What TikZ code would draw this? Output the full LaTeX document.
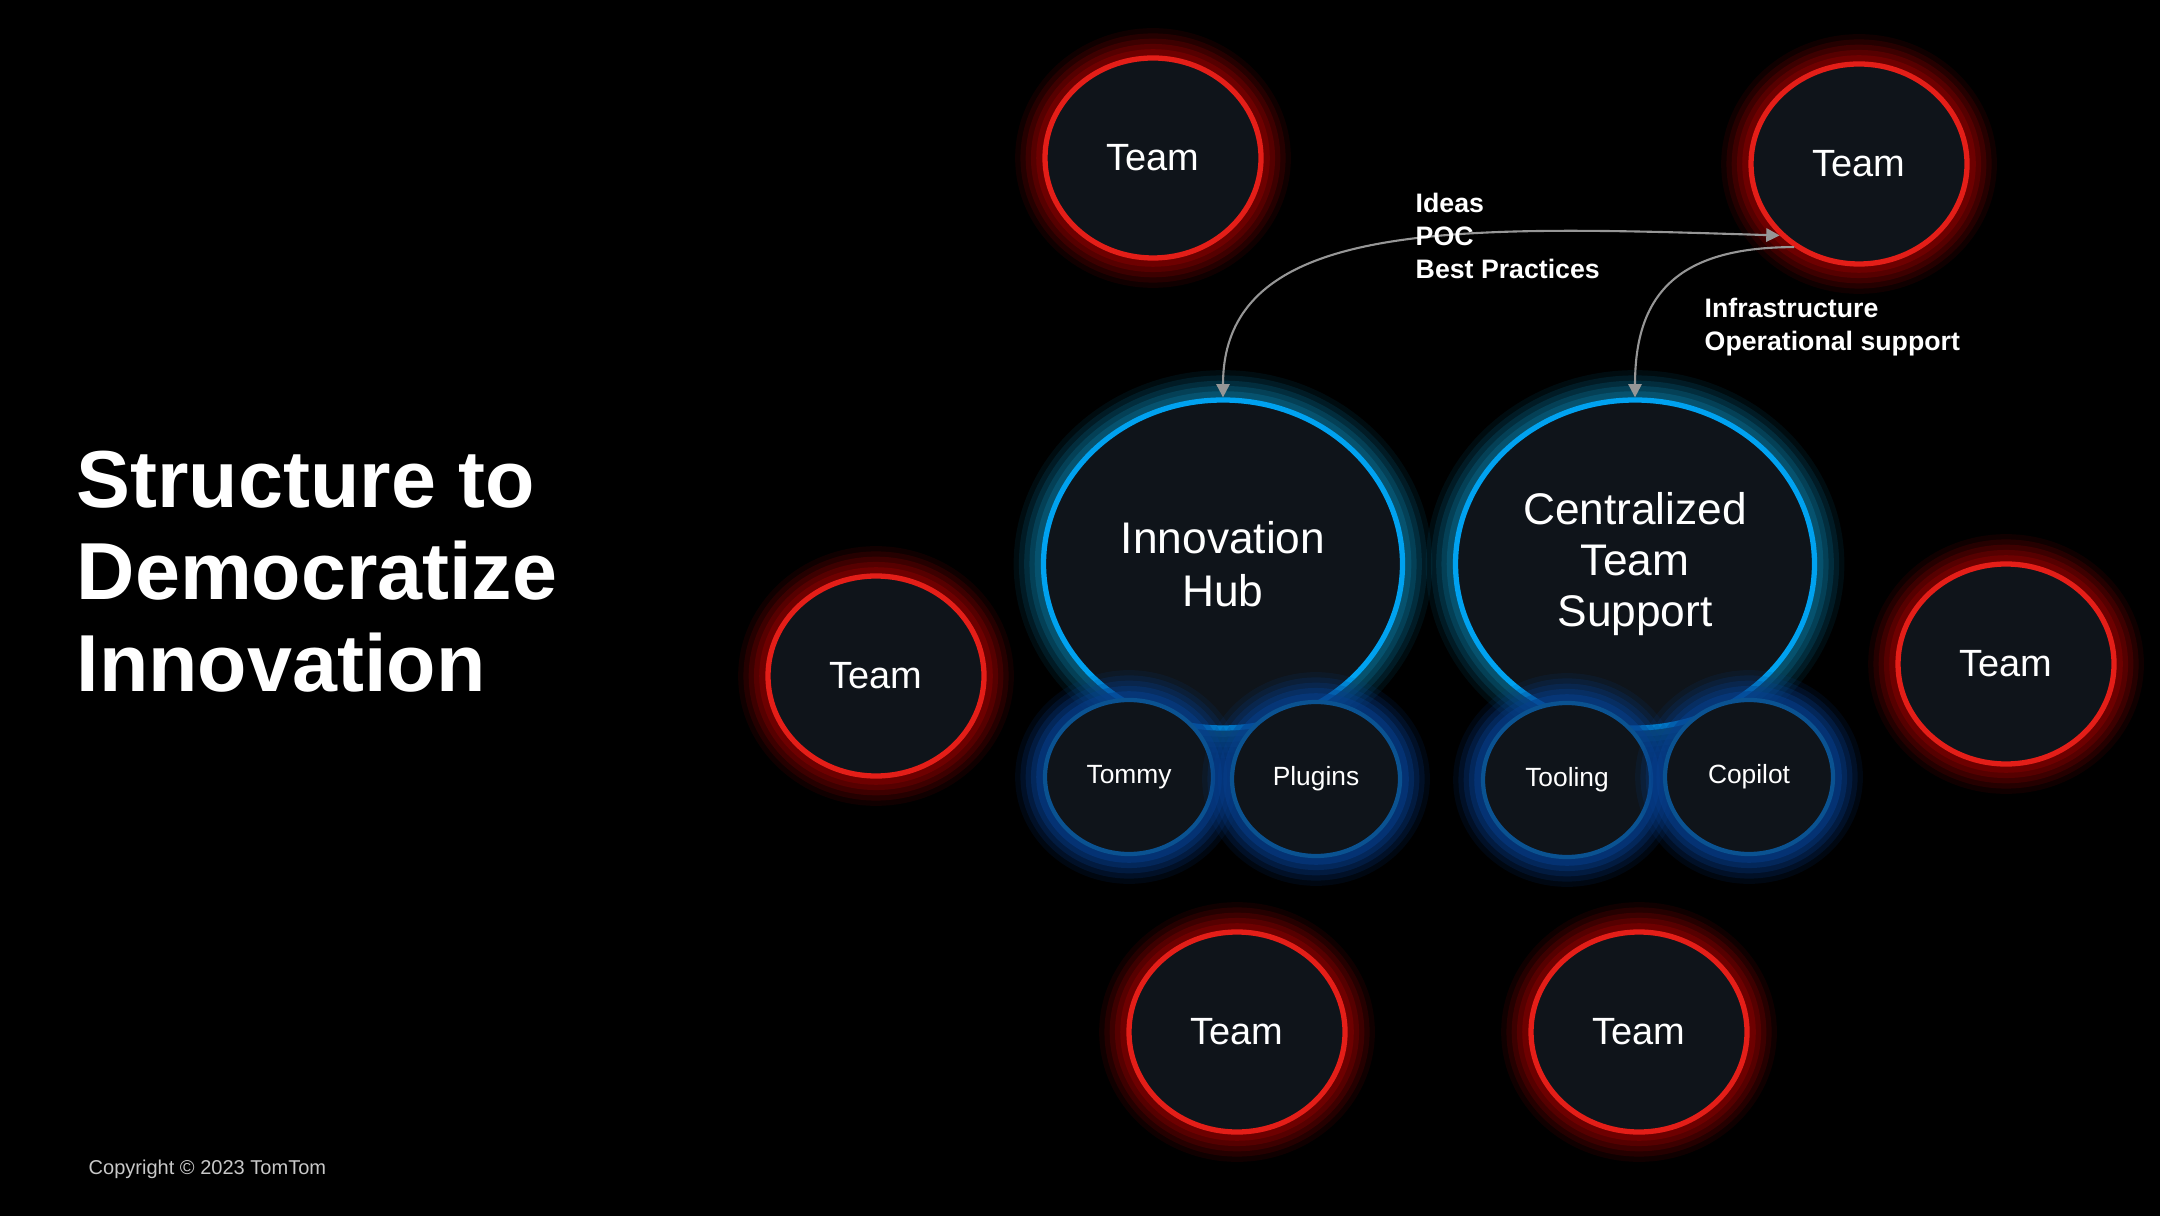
\documentclass[tikz,border=0pt]{standalone}
\usepackage{fontspec}
\setmainfont{Liberation Sans}
\usetikzlibrary{arrows.meta, positioning, shapes.geometric}

\definecolor{nodefill}{RGB}{15,20,26}
\definecolor{teamred}{RGB}{228,30,24}
\definecolor{glowred}{RGB}{135,0,0}
\definecolor{hubblue}{RGB}{0,162,240}
\definecolor{hubglow}{RGB}{8,100,135}
\definecolor{subring}{RGB}{10,82,145}
\definecolor{subglow}{RGB}{6,62,140}
\definecolor{linkgray}{RGB}{150,150,150}
\definecolor{copygray}{RGB}{200,200,200}

\tikzset{
  glow/.style={
    preaction={draw=#1, line width=17pt, draw opacity=0.12},
    preaction={draw=#1, line width=14pt, draw opacity=0.18},
    preaction={draw=#1, line width=11pt, draw opacity=0.25},
    preaction={draw=#1, line width=8pt, draw opacity=0.35},
    preaction={draw=#1, line width=5pt, draw opacity=0.5}}
}

\begin{document}
\begin{tikzpicture}[
      team/.style={ellipse, draw=teamred, line width=1.5pt, fill=nodefill, text=white, inner sep=0pt,
        minimum width=2.16cm, minimum height=2.0cm, font=\fontsize{10.8}{13}\selectfont, glow=glowred},
      hub/.style={ellipse, draw=hubblue, line width=1.5pt, fill=nodefill, text=white, inner sep=0pt,
        minimum width=3.59cm, minimum height=3.28cm, align=center, font=\fontsize{12.6}{15}\selectfont, glow=hubglow},
      sub/.style={ellipse, draw=subring, line width=1.2pt, fill=nodefill, text=white, inner sep=0pt,
        minimum width=1.68cm, minimum height=1.54cm, font=\fontsize{7.5}{9}\selectfont, glow=subglow},
      flow/.style={draw=linkgray, line width=0.6pt, -{Triangle[length=3.8pt, width=3.8pt]}},
      note/.style={text=white, align=left, inner sep=0pt, font=\fontsize{7.6}{9.4}\selectfont\bfseries}]

      % background
      \useasboundingbox (0,0) rectangle (21.6,12.15);
      \fill[black] (-0.1,-0.1) rectangle (21.7,12.25);

      % title
      \node[text=white, align=left, anchor=north west, inner sep=0pt,
        font=\fontsize{23}{26.2}\selectfont\bfseries] (title) at (0.76,7.65)
        {Structure to\\Democratize\\Innovation};
      \node[text=copygray, anchor=west, inner sep=0pt, font=\fontsize{5.7}{7}\selectfont]
        (copy) at (0.88,0.46) {Copyright © 2023 TomTom};

      % hubs
      \node[hub] (hub) at (12.23,6.51) {Innovation\\Hub};
      \node[hub, font=\fontsize{12.6}{14.6}\selectfont] (cts) at (16.35,6.51) {Centralized\\Team\\Support};

      % hub members
      \node[sub] (tommy) at (11.29,4.38) {Tommy};
      \node[sub] (plugins) at (13.16,4.36) {Plugins};
      \node[sub] (tooling) at (15.67,4.35) {Tooling};
      \node[sub] (copilot) at (17.49,4.38) {Copilot};

      % teams
      \node[team] (teamTL) at (11.53,10.57) {Team};
      \node[team] (teamTR) at (18.59,10.51) {Team};
      \node[team] (teamL) at (8.76,5.39) {Team};
      \node[team] (teamR) at (20.06,5.51) {Team};
      \node[team] (teamBL) at (12.37,1.83) {Team};
      \node[team] (teamBR) at (16.39,1.83) {Team};

      % flows
      \draw[flow, {Triangle[length=3.8pt, width=3.8pt]}-{Triangle[length=3.8pt, width=3.8pt]}]
        (hub.north) .. controls +(0,1.8) and +(-3.2,0.1) .. (teamTR.222);
      \draw[flow] (teamTR.232) .. controls +(-1.2,0) and +(0,1.0) .. (cts.north);

      % labels
      \node[note, anchor=north west] (give) at (14.15,10.23) {Ideas\\POC\\Best Practices};
      \node[note, anchor=north west] (take) at (17.04,9.18) {Infrastructure\\Operational support};
    \end{tikzpicture}
\end{document}
